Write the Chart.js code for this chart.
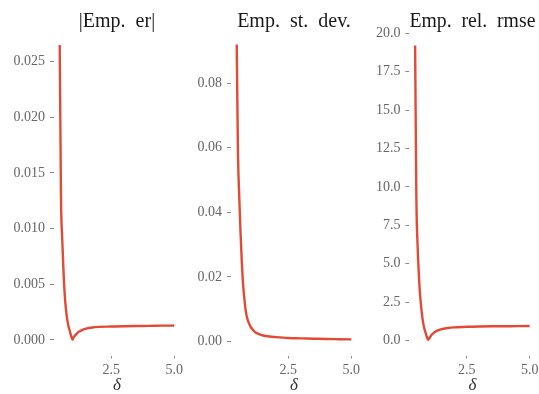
<!DOCTYPE html>
<html><head><meta charset="utf-8">
<script src="https://cdn.jsdelivr.net/npm/chart.js@4.4.1/dist/chart.umd.min.js"></script>
<style>
html,body{margin:0;padding:0;background:#fff;overflow:hidden;width:539px;height:394px;position:relative;}
canvas{position:absolute;left:0;top:0;}
</style></head><body>
<canvas id="c1" width="550" height="394"></canvas>
<canvas id="c2" width="550" height="394"></canvas>
<canvas id="c3" width="550" height="394"></canvas>
<script>
// ---- data ----
const delta   = [0.45, 0.5, 0.55, 0.6, 0.65, 0.7, 0.75, 0.8, 0.85, 0.9, 0.96, 1.0, 1.1, 1.2, 1.35, 1.5, 1.75, 2.0, 2.5, 3.0, 3.5, 4.0, 4.5, 5.0];
const empEr   = [0.0265, 0.0128, 0.0090, 0.0062, 0.0040, 0.0027, 0.0018, 0.0012, 0.0008, 0.00038, 0.00002, 0.00022, 0.0005, 0.00072, 0.0009, 0.00102, 0.00112, 0.00117, 0.0012, 0.00123, 0.00125, 0.00126, 0.00128, 0.00129];
const empSd   = [0.092, 0.058, 0.045, 0.034, 0.025, 0.018, 0.0135, 0.0100, 0.0078, 0.0064, 0.0052, 0.0046, 0.0036, 0.0028, 0.0023, 0.0019, 0.0016, 0.0014, 0.0011, 0.0010, 0.0009, 0.0008, 0.00075, 0.0007];
const relRmse = [19.2, 9.2, 6.1, 4.25, 2.9, 2.05, 1.35, 0.9, 0.6, 0.33, 0.05, 0.12, 0.37, 0.52, 0.67, 0.74, 0.82, 0.86, 0.9, 0.92, 0.93, 0.935, 0.94, 0.945];

const titles    = ['|Emp.\u2002er|', 'Emp.\u2002st.\u2002dev.', 'Emp.\u2002rel.\u2002rmse'];
const xLabel    = '\u03b4';
const xTicks    = [2.5, 5.0];
const erTicks   = [0, 0.005, 0.010, 0.015, 0.020, 0.025];
const sdTicks   = [0, 0.02, 0.04, 0.06, 0.08];
const rmseTicks = [0, 2.5, 5.0, 7.5, 10.0, 12.5, 15.0, 17.5, 20.0];

Chart.defaults.font.family = "'Liberation Serif', 'DejaVu Serif', serif";
Chart.defaults.devicePixelRatio = 1;

const LINE = '#E24A33';
const TICKC = '#666666';
const MARKC = '#888888';

function panel(id, values, yTicks, dec, yMin, yMax, left, right, title) {
  const W = 550;
  new Chart(document.getElementById(id), {
    type: 'line',
    data: {
      datasets: [{
        data: delta.map((d, i) => ({x: d, y: values[i]})),
        borderColor: LINE,
        borderWidth: 2.4,
        pointRadius: 0,
        fill: false,
        cubicInterpolationMode: 'monotone'
      }]
    },
    options: {
      responsive: false,
      animation: false,
      events: [],
      layout: {padding: {left: left - 54, right: W - right, top: 0, bottom: 0}},
      plugins: {
        legend: {display: false},
        tooltip: {enabled: false},
        title: {
          display: true,
          text: title,
          fullSize: false,
          color: '#1a1a1a',
          font: {size: 20, weight: 'normal', lineHeight: 1},
          padding: {top: 12, bottom: -1.5}
        }
      },
      scales: {
        x: {
          type: 'linear',
          min: 0.2225,
          max: 5.2275,
          afterBuildTicks: s => { s.ticks = xTicks.map(v => ({value: v})); },
          afterFit: s => { s.height = 38.5; },
          ticks: {
            color: TICKC,
            font: {size: 14},
            padding: 3.5,
            maxRotation: 0,
            callback: v => Number(v).toFixed(1)
          },
          grid: {drawOnChartArea: false, drawTicks: true, tickLength: 3, color: MARKC, lineWidth: 1},
          border: {display: false},
          title: {
            display: true,
            text: xLabel,
            color: '#333',
            font: {size: 17, style: 'italic', lineHeight: 0.94},
            padding: {top: 0, bottom: 0}
          }
        },
        y: {
          type: 'linear',
          min: yMin,
          max: yMax,
          afterBuildTicks: s => { s.ticks = yTicks.map(v => ({value: v})); },
          afterFit: s => { s.width = 54; },
          ticks: {
            color: TICKC,
            font: {size: 14},
            padding: 5,
            callback: v => Number(v).toFixed(dec)
          },
          grid: {drawOnChartArea: false, drawTicks: true, tickLength: 4, color: MARKC, lineWidth: 1},
          border: {display: false}
        }
      }
    }
  });
}

panel('c1', empEr,   erTicks,   3, -0.0014, 0.0278, 54,    180,   titles[0]);
panel('c2', empSd,   sdTicks,   2, -0.0043, 0.0963, 231,   357,   titles[1]);
panel('c3', relRmse, rmseTicks, 1, -0.97,   20.18,  409.4, 535.4, titles[2]);
</script>
</body></html>
